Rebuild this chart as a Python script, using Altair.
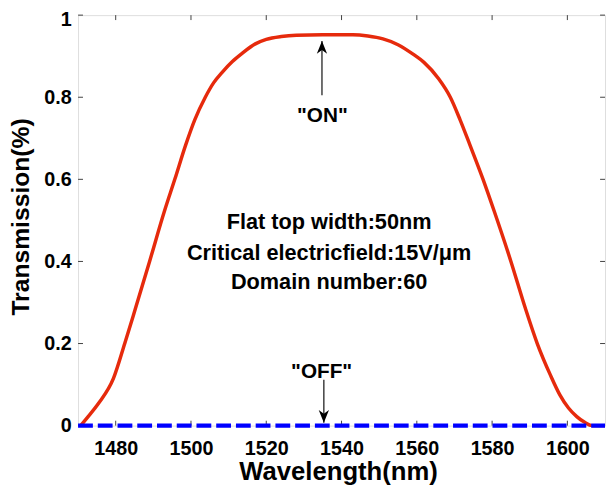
import altair as alt
import pandas as pd

# ---- data ----
wl = [1470.7, 1472.4, 1475.5, 1479.4, 1482.4, 1485.2, 1489.0, 1493.0, 1495.7, 1498.6,
      1501.0, 1503.8, 1506.0, 1508.4, 1511.0, 1513.6, 1517.1, 1520.0, 1524.0, 1528.0,
      1535.0, 1543.0, 1547.0, 1551.0, 1555.0, 1559.3, 1561.9, 1565.8, 1568.9, 1571.5,
      1574.1, 1577.6, 1580.5, 1585.0, 1588.9, 1592.0, 1595.5, 1598.0, 1600.3, 1602.5,
      1604.6, 1606.5, 1610.0]
trans = [0.0, 0.019, 0.055, 0.115, 0.200, 0.284, 0.400, 0.524, 0.600, 0.684,
         0.745, 0.800, 0.835, 0.862, 0.887, 0.907, 0.930, 0.941, 0.948, 0.951,
         0.952, 0.952, 0.949, 0.942, 0.928, 0.903, 0.885, 0.845, 0.800, 0.745,
         0.684, 0.600, 0.524, 0.400, 0.284, 0.200, 0.123, 0.075, 0.043, 0.022,
         0.008, 0.0, 0.0]
off_wl = [1470, 1610]
off_t = [0, 0]

x_ticks = [1480, 1500, 1520, 1540, 1560, 1580, 1600]
y_ticks = [0, 0.2, 0.4, 0.6, 0.8, 1.0]

info_lines = ["Flat top width:50nm", "Critical electricfield:15V/\u03bcm", "Domain number:60"]
info_y = [0.478, 0.404, 0.332]
info_x = 1536.7

labels = ['"ON"', '"OFF"']
label_x = [1534.9, 1534.7]
label_y = [0.740, 0.115]

arrow_x = [1534.8, 1535.3]
arrow_tail = [0.805, 0.112]
arrow_tip = [0.937, 0.007]

W, H = 534, 416
FONT = "Liberation Sans"
RED = "#e62a0c"
BLUE = "#0000ff"
FRAME = "#404040"

xs = alt.Scale(domain=[1470, 1610], nice=False, zero=False)
ys = alt.Scale(domain=[0, 1], nice=False, zero=False)

on_df = pd.DataFrame({"wl": wl, "t": trans})
off_df = pd.DataFrame({"wl": off_wl, "t": off_t})
xt_df = pd.DataFrame({"v": x_ticks})
yt_df = pd.DataFrame({"v": y_ticks})
info_df = pd.DataFrame({"txt": info_lines, "y": info_y, "x": [info_x] * 3})
lab_df = pd.DataFrame({"txt": labels, "x": label_x, "y": label_y})
arr_df = pd.DataFrame({"x": arrow_x, "y1": arrow_tail, "y2": arrow_tip})

x_axis = alt.Axis(values=x_ticks, format="d", title="Wavelength(nm)", domain=False,
                  ticks=False, tickSize=0, grid=False, labelFont=FONT, labelFontSize=20,
                  labelFontWeight="bold", labelColor="black", labelBaseline="alphabetic",
                  labelPadding=29, titleFont=FONT, titleFontSize=26, titleFontWeight="bold",
                  titleColor="black", titleBaseline="alphabetic", titleX=263.5, titleY=55,
                  titleAlign="center")
y_axis = alt.Axis(values=y_ticks, format="~g", title="Transmission(%)", domain=False,
                  ticks=False, tickSize=0, grid=False, labelFont=FONT, labelFontSize=20,
                  labelFontWeight="bold", labelColor="black", labelPadding=7,
                  labelOffset={"condition": {"test": "datum.value == 1", "value": 5}, "value": 0},
                  titleFont=FONT, titleFontSize=25, titleFontWeight="bold",
                  titleColor="black", titleBaseline="alphabetic", titleAngle=270,
                  titleX=-50, titleY=204, titleAlign="center")

base_line = alt.Chart(on_df).mark_line(color=RED, strokeWidth=3.5, interpolate="monotone").encode(
    x=alt.X("wl:Q", scale=xs, axis=x_axis),
    y=alt.Y("t:Q", scale=ys, axis=y_axis),
)

off_line = alt.Chart(off_df).mark_line(color=BLUE, strokeWidth=4.5, strokeDash=[15, 5]).encode(
    x=alt.X("wl:Q", scale=xs), y=alt.Y("t:Q", scale=ys)
)

tick_bottom = alt.Chart(xt_df).mark_rule(color=FRAME, strokeWidth=1).encode(
    x=alt.X("v:Q", scale=xs), y=alt.value(H), y2=alt.value(H - 5))
tick_top = alt.Chart(xt_df).mark_rule(color=FRAME, strokeWidth=1).encode(
    x=alt.X("v:Q", scale=xs), y=alt.value(0), y2=alt.value(5))
tick_left = alt.Chart(yt_df).mark_rule(color=FRAME, strokeWidth=1).encode(
    y=alt.Y("v:Q", scale=ys), x=alt.value(0), x2=alt.value(5))
tick_right = alt.Chart(yt_df).mark_rule(color=FRAME, strokeWidth=1).encode(
    y=alt.Y("v:Q", scale=ys), x=alt.value(W), x2=alt.value(W - 5))

shafts = alt.Chart(arr_df).mark_rule(color="#222222", strokeWidth=1.3).encode(
    x=alt.X("x:Q", scale=xs), y=alt.Y("y1:Q", scale=ys), y2="y2:Q")
head_up = alt.Chart(arr_df.iloc[[0]]).mark_point(
    shape="M0,0 L0.8,2 L0,1.4 L-0.8,2 Z", filled=True, color="black", size=169, opacity=1
).encode(x=alt.X("x:Q", scale=xs), y=alt.Y("y2:Q", scale=ys))
head_down = alt.Chart(arr_df.iloc[[1]]).mark_point(
    shape="M0,0 L0.8,-2 L0,-1.4 L-0.8,-2 Z", filled=True, color="black", size=169, opacity=1
).encode(x=alt.X("x:Q", scale=xs), y=alt.Y("y2:Q", scale=ys))

info_text = alt.Chart(info_df).mark_text(
    font=FONT, fontSize=22, fontWeight="bold", color="black", align="center",
    baseline="alphabetic").encode(
    x=alt.X("x:Q", scale=xs), y=alt.Y("y:Q", scale=ys), text="txt:N")
lab_text = alt.Chart(lab_df).mark_text(
    font=FONT, fontSize=21, fontWeight="bold", color="black", align="center",
    baseline="alphabetic").encode(
    x=alt.X("x:Q", scale=xs), y=alt.Y("y:Q", scale=ys), text="txt:N")

chart = alt.layer(
    base_line, tick_bottom, tick_top, tick_left, tick_right, off_line,
    shafts, head_up, head_down, info_text, lab_text
).properties(
    width=W, height=H,
    padding={"left": 71, "top": 4, "right": 1, "bottom": 63},
    autosize=alt.AutoSizeParams(type="none"),
).configure_view(stroke=FRAME, strokeWidth=1.2).configure(background="white")

chart.save("out.html", embed_options={"renderer": "svg", "actions": False})
